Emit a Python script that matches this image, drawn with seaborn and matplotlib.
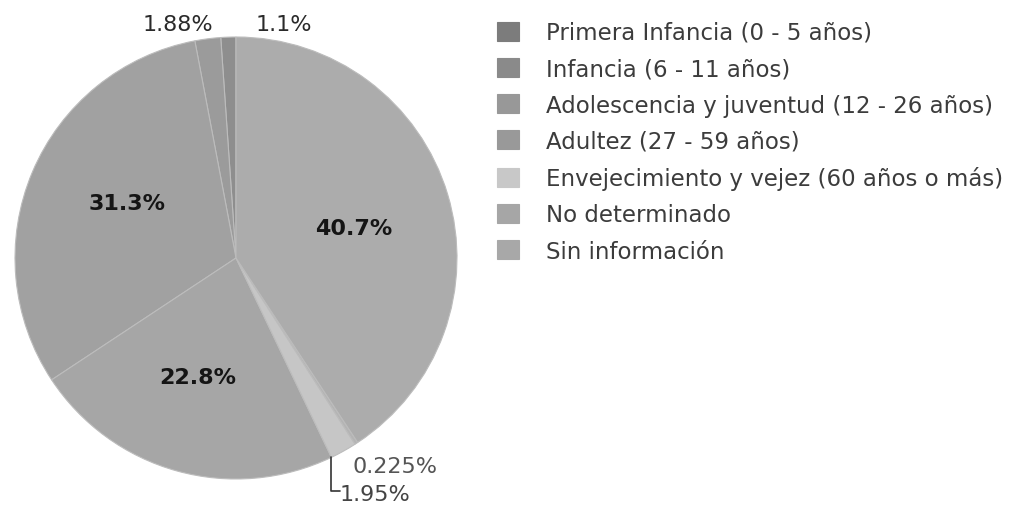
import numpy as np
import seaborn as sns
import matplotlib.pyplot as plt

categories = [
    "Primera Infancia (0 - 5 años)",
    "Infancia (6 - 11 años)",
    "Adolescencia y juventud (12 - 26 años)",
    "Adultez (27 - 59 años)",
    "Envejecimiento y vejez (60 años o más)",
    "No determinado",
    "Sin información",
]
shares = [1.1, 1.88, 31.3, 22.8, 1.95, 0.225, 40.7]
pct_labels = ["1.1%", "1.88%", "31.3%", "22.8%", "1.95%", "0.225%", "40.7%"]

slice_colors = ["#8e8e8e", "#9b9b9b", "#a1a1a1", "#a6a6a6", "#c6c6c6", "#b4b4b4", "#acacac"]
legend_colors = ["#7c7c7c", "#8a8a8a", "#989898", "#999999", "#c8c8c8", "#a6a6a6", "#a8a8a8"]

sns.set_theme(style="white")
plt.rcParams["font.family"] = ["DejaVu Sans"]

W, H = 1017, 506
fig = plt.figure(figsize=(W / 100, H / 100), dpi=100)
cx, cy, r = 236, 259, 221
ax = fig.add_axes([(cx - r) / W, (H - cy - r) / H, 2 * r / W, 2 * r / H])

palette = sns.color_palette(slice_colors)
wedges, _ = ax.pie(shares, colors=palette, startangle=90, counterclock=True,
                   wedgeprops=dict(edgecolor="#bcbcbc", linewidth=0.8))
ax.set_xlim(-1, 1)
ax.set_ylim(-1, 1)
ax.set_aspect("equal")
ax.axis("off")

# big slices: bold label inside
for w, lab, v in zip(wedges, pct_labels, shares):
    if v > 10:
        mid = np.deg2rad((w.theta1 + w.theta2) / 2 - 3)
        ax.text(0.55 * np.cos(mid), 0.57 * np.sin(mid), lab, ha="center", va="center",
                fontsize=16, fontweight="bold", color="#151515")

# small slices: outside labels
fs = 16
ax.text(0.217, 1.06, pct_labels[0], ha="center", va="center", fontsize=fs, color="#2a2a2a", clip_on=False)
ax.text(-0.262, 1.06, pct_labels[1], ha="center", va="center", fontsize=fs, color="#2a2a2a", clip_on=False)
ax.text(0.525, -0.943, pct_labels[5], ha="left", va="center", fontsize=fs, color="#555555", clip_on=False)
ax.text(0.47, -1.07, pct_labels[4], ha="left", va="center", fontsize=fs, color="#444444", clip_on=False)

t = np.deg2rad(wedges[4].theta1)
x0, y0 = np.cos(t), np.sin(t)
ax.plot([x0, x0, x0 + 0.04], [y0, -1.054, -1.054], color="#333333", lw=1.2, clip_on=False)

leg = fig.legend(wedges, categories, loc="upper left", bbox_to_anchor=(497 / W, 1 - 22 / H),
                 frameon=False, fontsize=16.5, handlelength=0.95, handleheight=0.9,
                 handletextpad=1.2, labelspacing=0.58, borderpad=0, borderaxespad=0)
for txt in leg.get_texts():
    txt.set_color("#3c3c3c")
for p, c in zip(leg.get_patches(), legend_colors):
    p.set_facecolor(c)
    p.set_edgecolor(c)

fig.savefig("out.png", dpi=100)
